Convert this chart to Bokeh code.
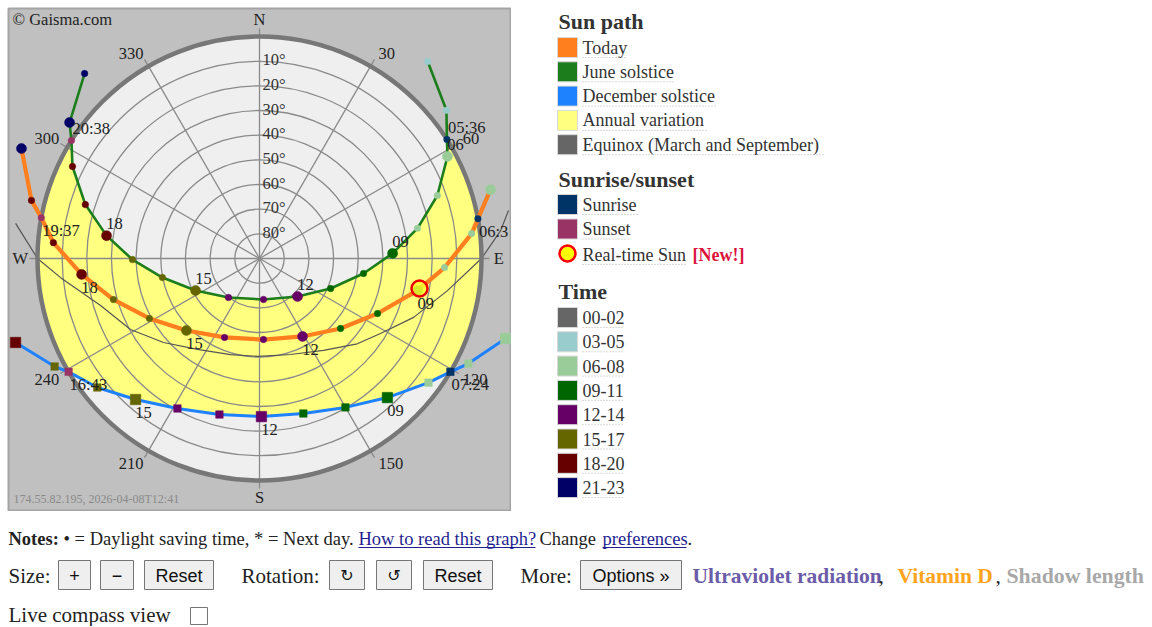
import numpy as np
from bokeh.plotting import figure
from bokeh.models import Range1d
from bokeh.layouts import column, row
from bokeh.embed import file_html
from bokeh.resources import INLINE
from bokeh.core.properties import value

# ---------------- data ----------------
# azimuth: degrees clockwise from north, altitude: degrees above horizon
june_time = ["04", "05", "05:36", "06", "07", "08", "09", "10", "11", "12", "13",
             "14", "15", "16", "17", "18", "19", "20", "20:38", "21", "22"]
june_kind = ["h", "h", "rise", "h", "h", "h", "h", "h", "h", "h", "h",
             "h", "h", "h", "h", "h", "h", "h", "set", "h", "h"]
june_az = [40.5, 51.6, 57.6, 61.5, 70.5, 79.2, 87.8, 98.2, 112.9, 135.0, 174.4,
           218.5, 243.4, 258.9, 269.5, 278.5, 287.2, 296.2, 302.1, 305.6, 316.6]
june_alt = [-15.0, -6.7, 0.0, 3.3, 13.5, 24.8, 36.0, 47.4, 58.7, 68.2, 73.3,
            69.8, 61.0, 49.9, 38.5, 27.3, 16.1, 5.5, 0.0, -4.7, -13.2]

today_time = ["06", "06:3", "07", "08", "09", "10", "11", "12", "13", "14", "15",
              "16", "17", "18", "19", "19:37", "20", "21"]
today_kind = ["h", "rise", "h", "h", "h", "h", "h", "h", "h", "h", "h",
              "h", "h", "h", "h", "set", "h", "h"]
today_az = [73.4, 79.7, 83.3, 92.8, 101.4, 115.0, 130.8, 151.1, 177.2, 203.9, 225.4,
            241.4, 254.3, 264.9, 274.4, 280.6, 284.3, 294.8]
today_alt = [-7.7, 0.0, 3.4, 14.9, 24.6, 37.2, 46.6, 53.9, 57.1, 55.0, 48.4,
             39.2, 28.5, 17.6, 6.2, 0.0, -5.4, -16.3]

dec_time = ["06", "07", "07:24", "08", "09", "10", "11", "12", "13", "14", "15",
            "16", "16:43", "17", "18"]
dec_kind = ["h", "h", "rise", "h", "h", "h", "h", "h", "h", "h", "h",
            "h", "set", "h", "h"]
dec_az = [108.0, 116.7, 120.7, 126.3, 137.4, 150.0, 164.2, 179.3, 194.4, 208.7, 221.3,
          231.5, 239.3, 242.2, 251.0]
dec_alt = [-14.9, -4.8, 0.0, 5.0, 13.4, 20.3, 24.7, 25.9, 24.7, 20.7, 13.9,
           6.0, 0.0, -3.9, -14.6]

equinox_az = [79.1, 83.4, 90.0, 99.7, 110.9, 121.8, 131.1, 145.2, 162.1, 180.6,
              196.8, 214.3, 228.8, 241.2, 253.5, 264.5, 270.0, 278.2]
equinox_alt = [-12.8, -8.4, 0.0, 12.7, 23.1, 32.3, 37.4, 44.6, 49.1, 50.3,
               49.3, 45.4, 38.3, 30.3, 22.8, 9.0, 0.0, -9.9]

sun_az = [100.6]
sun_alt = [24.0]

alt_rings = [10, 20, 30, 40, 50, 60, 70, 80]
az_lines = [0, 30, 60, 90, 120, 150, 180, 210, 240, 270, 300, 330]
az_labels = ["30", "60", "120", "150", "210", "240", "300", "330"]
cardinal_az = [0, 90, 180, 270]
cardinal_txt = ["N", "E", "S", "W"]

path_names = ["Today", "June solstice", "December solstice", "Annual variation",
              "Equinox (March and September)"]
sun_names = ["Sunrise", "Sunset"]
time_names = ["00-02", "03-05", "06-08", "09-11", "12-14", "15-17", "18-20", "21-23"]

# ---------------- styles ----------------
TODAY_C = "#ff7f1f"
JUNE_C = "#1b7d1b"
DEC_C = "#1e82ff"
ANNUAL_C = "#ffff80"
EQUI_C = "#666666"
RISE_C = "#003366"
SET_C = "#993366"
TIME_C = ["#666666", "#99cccc", "#99cc99", "#006600", "#660066", "#666600", "#660000", "#000066"]
SERIF = value("Liberation Serif")
SANS = value("Liberation Sans")
DEJA = value("DejaVu Sans")

K = 222.0 / 90.0  # pixels per degree of zenith distance


def polar(az, alt):
    a = np.radians(np.asarray(az, dtype=float))
    r = 90.0 - np.asarray(alt, dtype=float)
    return r * np.sin(a), r * np.cos(a)


def page(px, py):
    return (px - 259.0) / K, (258.0 - py) / K


def clean(f):
    f.grid.visible = False
    return f


# ================= polar sun-path chart =================
p = figure(width=511, height=511, x_range=Range1d(-251 / K, 252 / K),
           y_range=Range1d(-253 / K, 250 / K), output_backend="svg",
           toolbar_location=None, min_border=0, min_border_left=8, min_border_top=8,
           x_axis_location=None, y_axis_location=None,
           background_fill_color="#c0c0c0", border_fill_color="#ffffff",
           outline_line_color="#a4a4a4", outline_line_width=2)
clean(p)

# sky disk
p.circle(x=[0], y=[0], radius=[90], fill_color="#efefef", line_color=None)


# annual variation area (between solstice paths, above horizon)
def day_part(az, alt, kind):
    i0, i1 = kind.index("rise"), kind.index("set")
    return list(az[i0:i1 + 1]), list(alt[i0:i1 + 1])


ja, jl = day_part(june_az, june_alt, june_kind)
da, dl = day_part(dec_az, dec_alt, dec_kind)
arc1 = list(np.linspace(ja[-1], da[-1], 60))
arc2 = list(np.linspace(da[0], ja[0], 60))
poly_az = ja + arc1 + da[::-1] + arc2
poly_alt = jl + [0.0] * 60 + dl[::-1] + [0.0] * 60
px_, py_ = polar(poly_az, poly_alt)
p.patch(px_, py_, fill_color=ANNUAL_C, line_color=None)

# grid
GRID_C = "#8a8a8a"
p.circle(x=[0] * len(alt_rings), y=[0] * len(alt_rings),
         radius=[90 - a for a in alt_rings], fill_color=None,
         line_color=GRID_C, line_width=1.3)
end_alt = 90 - 230 / K
lx, ly = polar(az_lines, [end_alt] * len(az_lines))
p.segment(x0=[0] * len(az_lines), y0=[0] * len(az_lines), x1=lx, y1=ly,
          line_color=GRID_C, line_width=1.3)

# equinox
ex, ey = polar(equinox_az, equinox_alt)
p.line(ex, ey, line_color="#555555", line_width=1.2)

# horizon ring
p.circle(x=[0], y=[0], radius=[90], fill_color=None, line_color="#777777", line_width=4.5)

# paths
paths = [
    (june_time, june_kind, june_az, june_alt, JUNE_C, 2.6, "circle", False),
    (today_time, today_kind, today_az, today_alt, TODAY_C, 4.2, "circle", True),
    (dec_time, dec_kind, dec_az, dec_alt, DEC_C, 3.0, "square", True),
]
for t, k, az, alt, col, lw, mk, below in paths:
    x, y = polar(az, alt)
    p.line(x, y, line_color=col, line_width=lw, line_cap="round", line_join="round")

for t, k, az, alt, col, lw, mk, below in paths:
    x, y = polar(az, alt)
    cols, sizes = [], []
    for ti, ki in zip(t, k):
        if ki == "rise":
            cols.append(RISE_C); sizes.append(6.5 if mk == "circle" else 7.5)
        elif ki == "set":
            cols.append(SET_C); sizes.append(6.5 if mk == "circle" else 7.5)
        else:
            h = int(ti)
            cols.append(TIME_C[h // 3])
            big = (h % 3 == 0)
            if mk == "circle":
                sizes.append(10 if big else 6.5)
            else:
                sizes.append(10.5 if big else 7.5)
    p.scatter(x=list(x), y=list(y), marker=mk, size=sizes, fill_color=cols,
              line_color=cols, line_width=0.5)

for t, k, az, alt, col, lw, mk, below in paths:
    x, y = polar(az, alt)
    dy = 13 if below else -12
    hx, hy, ht, sx, sy, st = [], [], [], [], [], []
    for i, (ti, ki) in enumerate(zip(t, k)):
        if ki in ("rise", "set"):
            sx.append(x[i] + 1 / K); sy.append(y[i] - dy / K); st.append(ti)
        elif int(ti) % 3 == 0 and alt[i] > 0:
            hx.append(x[i] + 8 / K); hy.append(y[i] - dy / K); ht.append(ti)
    p.text(x=hx, y=hy, text=ht, text_font=SERIF, text_font_size="16.5px",
           text_color="#222222", text_align="center", text_baseline="middle")
    p.text(x=sx, y=sy, text=st, text_font=SERIF, text_font_size="16.5px",
           text_color="#222222", text_align="left", text_baseline="middle")

# real-time sun
sx0, sy0 = polar(sun_az, sun_alt)
p.scatter(x=list(sx0), y=list(sy0), marker="circle", size=16, fill_color="#ffff33",
          fill_alpha=0.85, line_color="#ee0000", line_width=2.5)

# altitude labels
p.text(x=[3 / K] * len(alt_rings), y=[90 - a + 1.5 / K for a in alt_rings],
       text=[f"{a}°" for a in alt_rings], text_font=SERIF, text_font_size="16.5px",
       text_color="#333333", text_align="left", text_baseline="alphabetic")

# azimuth labels
for lab in az_labels:
    a = float(lab)
    x, y = polar([a], [end_alt])
    right = np.sin(np.radians(a)) > 0
    top = np.cos(np.radians(a)) > 0
    p.text(x=[x[0] + (4 if right else -1) / K], y=[y[0]], text=[lab], text_font=SERIF,
           text_font_size="16.5px", text_color="#222222",
           text_align="left" if right else "right",
           text_baseline="bottom" if top else "top")

cx, cy = polar(cardinal_az, [90 - 97.0] * 4)
p.text(x=list(cx), y=list(cy), text=cardinal_txt, text_font=SERIF, text_font_size="16.5px",
       text_color="#222222", text_align="center", text_baseline="middle")

gx, gy = page(12, 19)
p.text(x=[gx], y=[gy], text=["© Gaisma.com"], text_font=SERIF, text_font_size="16.5px",
       text_color="#222222", text_align="left", text_baseline="middle")
bx, by = page(13, 498)
p.text(x=[bx], y=[by], text=["174.55.82.195, 2026-04-08T12:41"], text_font=SERIF,
       text_font_size="12px", text_color="#8a8a8a", text_align="left", text_baseline="middle")

# ================= legend =================
L = figure(width=639, height=511, x_range=Range1d(511, 1150), y_range=Range1d(511, 8),
           output_backend="svg", toolbar_location=None, min_border=0, min_border_top=8,
           x_axis_location=None, y_axis_location=None, outline_line_color=None)
clean(L)


def txt(f, xs, ys, texts, size, color="#333333", bold=False, align="left", font=SERIF):
    f.text(x=xs, y=ys, text=texts, text_font=font, text_font_size=size, text_color=color,
           text_font_style="bold" if bold else "normal", text_align=align,
           text_baseline="middle")


txt(L, [558, 558, 558], [21, 179, 291], ["Sun path", "Sunrise/sunset", "Time"], "22px", bold=True)

path_y = [47 + 24.3 * i for i in range(len(path_names))]
sun_y = [204, 228.5]
time_y = [317 + 24.3 * i for i in range(len(time_names))]
rt_y = 253

L.rect(x=[567] * 5, y=path_y, width=20, height=20,
       fill_color=[TODAY_C, JUNE_C, DEC_C, ANNUAL_C, EQUI_C], line_color="#d8d8d8")
L.rect(x=[567] * 2, y=sun_y, width=20, height=20, fill_color=[RISE_C, SET_C], line_color="#d8d8d8")
L.rect(x=[567] * 8, y=time_y, width=20, height=20, fill_color=TIME_C, line_color="#d8d8d8")
L.scatter(x=[567], y=[rt_y], marker="circle", size=16, fill_color="#ffff00",
          line_color="#ff0000", line_width=2.5)

txt(L, [582] * 5, path_y, path_names, "18px")
txt(L, [582] * 2, sun_y, sun_names, "18px")
txt(L, [582], [rt_y + 1], ["Real-time Sun"], "18px")
txt(L, [692], [rt_y + 1], ["[New!]"], "18px", color="#dc143c", bold=True)
txt(L, [582] * 8, time_y, time_names, "18px")

ul_y = path_y + sun_y + [rt_y + 1] + time_y
ul_end = [627, 675, 717, 706, 823, 637, 629, 687] + [623] * 8
L.segment(x0=[582] * len(ul_y), y0=[v + 10 for v in ul_y], x1=ul_end, y1=[v + 10 for v in ul_y],
          line_color="#b4b4b4", line_width=1, line_dash="1 2")

# ================= notes and controls =================
B = figure(width=1150, height=115, x_range=Range1d(0, 1150), y_range=Range1d(626, 511),
           output_backend="svg", toolbar_location=None, min_border=0,
           x_axis_location=None, y_axis_location=None, outline_line_color=None)
clean(B)
LINK = "#1f1f8f"
ny = 538
txt(B, [8], [ny], ["Notes:"], "18.5px", color="#222222", bold=True)
txt(B, [63, 539, 687], [ny] * 3, ["• = Daylight saving time, * = Next day.", "Change", "."],
    "18.5px", color="#222222")
txt(B, [358, 602], [ny] * 2, ["How to read this graph?", "preferences"], "18.5px", color=LINK)
B.segment(x0=[358, 602], y0=[547, 547], x1=[535, 686], y1=[547, 547], line_color=LINK, line_width=1)

ry = 575
txt(B, [8, 241, 520], [ry] * 3, ["Size:", "Rotation:", "More:"], "21px", color="#222222")
btn_l = [58, 100, 144, 329, 376, 423, 580]
btn_r = [90, 133, 213, 364, 411, 492, 681]
btn_t = ["+", "−", "Reset", "↻", "↺", "Reset", "Options »"]
B.quad(left=btn_l, right=btn_r, top=[560] * 7, bottom=[589] * 7,
       fill_color="#efefef", line_color="#767676", line_width=1)
mids = [(a + b) / 2 for a, b in zip(btn_l, btn_r)]
txt(B, [mids[i] for i in (0, 1, 2, 5, 6)], [ry] * 5, [btn_t[i] for i in (0, 1, 2, 5, 6)],
    "18px", color="#111111", align="center", font=SANS)
txt(B, [mids[3], mids[4]], [ry, ry], [btn_t[3], btn_t[4]], "16px", color="#111111",
    align="center", font=DEJA)

txt(B, [692], [ry], ["Ultraviolet radiation"], "21.5px", color="#6b5ca8", bold=True)
txt(B, [878], [ry], [","], "21.5px", color="#222222")
txt(B, [897], [ry], ["Vitamin D"], "21.5px", color="#ffa41b", bold=True)
txt(B, [995], [ry], [","], "21.5px", color="#222222")
txt(B, [1006], [ry], ["Shadow length"], "21.8px", color="#a8a8a8", bold=True)

txt(B, [8], [614], ["Live compass view"], "21px", color="#222222")
B.quad(left=[190], right=[207], top=[607], bottom=[624], fill_color="#ffffff",
       line_color="#767676", line_width=1)

layout = column(row(p, L), B)
open("out.html", "w").write(file_html(layout, INLINE))
